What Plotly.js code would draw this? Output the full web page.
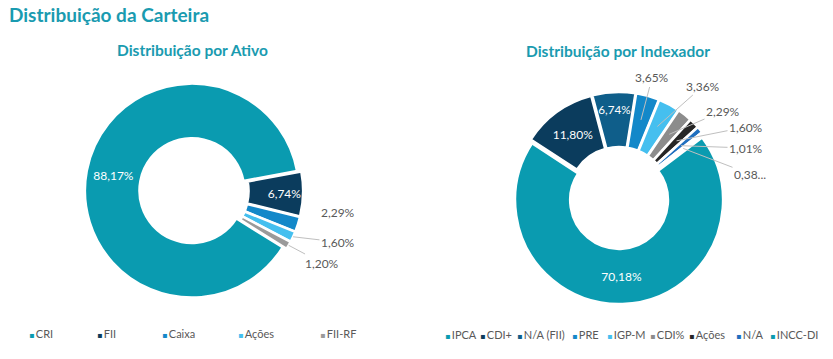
<!DOCTYPE html>
<html>
<head>
<meta charset="utf-8">
<script src="https://cdn.plot.ly/plotly-3.0.1.min.js"></script>
<style>html,body{margin:0;padding:0;background:#fff;}#chart{width:833px;height:359px;}</style>
</head>
<body>
<div id="chart"></div>
<script>
// ---- Data ----
const ativoLabels = ['CRI', 'FII', 'Caixa', 'Ações', 'FII-RF'];
const ativoValues = [88.17, 6.74, 2.29, 1.60, 1.20];
const ativoColors = ['#0A9BB0', '#0B3C5D', '#1388C9', '#45BFEF', '#9A9A9A'];

const indexLabels = ['IPCA', 'CDI+', 'N/A (FII)', 'PRE', 'IGP-M', 'CDI%', 'Ações', 'N/A', 'INCC-DI'];
const indexValues = [70.18, 11.80, 6.74, 3.65, 3.36, 2.29, 1.60, 1.01, 0.38];
const indexColors = ['#0A9BB0', '#0B3C5D', '#0F5E8A', '#1388C9', '#45BFEF', '#8C8C8C', '#262626', '#1F6FBF', '#0A9BB0'];

const mainTitle = 'Distribuição da Carteira';
const ativoTitle = 'Distribuição por Ativo';
const indexTitle = 'Distribuição por Indexador';

// ---- Layout settings (pixels) ----
const W = 833, H = 359;
const FONT = 'Lato, "Open Sans", sans-serif';
const TEAL = '#1A9BB0';
const GREY = '#595959';
const LINE = '#BFBFBF';
const pull = 0.02;

const ativoPie = {cx: 194, cy: 191, r: 107, rot: 122, hole: 0.49, tip: 1.0};
const indexPie = {cx: 619, cy: 198, r: 104, rot: 53, hole: 0.47, tip: 0.76};
// outside-label text positions (index of slice -> [x, y, draw leader line])
const ativoOutside = {2: [338, 212, false], 3: [338, 242, true], 4: [322, 263, true]};
const indexOutside = {3: [652, 78, true], 4: [703, 86, true], 5: [723, 111, true],
                      6: [746, 127, true], 7: [746, 148, true], 8: [750, 174, true]};
const ativoLegendX = [27, 95, 160, 236, 318];
const indexLegendX = [443, 478, 515, 570, 605, 648, 687, 734, 768];

// ---- Helpers ----
function fmt(v) {
  let s = v.toFixed(2).replace('.', ',') + '%';
  if (v < 0.5) s = s.slice(0, 4) + '...';
  return s;
}
function px(x) { return x / W; }
function py(y) { return 1 - y / H; }

function pieTrace(labels, values, colors, P, outside) {
  const half = P.r * (1 + pull);
  return {
    type: 'pie', sort: false, direction: 'clockwise', rotation: P.rot,
    labels: labels, values: values, hole: P.hole,
    text: values.map(fmt), textinfo: 'text', hoverinfo: 'label+percent',
    textposition: values.map((v, i) => outside[i] ? 'none' : 'inside'),
    insidetextorientation: 'horizontal',
    insidetextfont: {family: FONT, size: 12, color: '#ffffff'},
    marker: {colors: colors, line: {color: '#ffffff', width: 2.5}},
    pull: values.map(() => pull),
    showlegend: false,
    domain: {x: [px(P.cx - half), px(P.cx + half)], y: [py(P.cy + half), py(P.cy - half)]}
  };
}

function outsideAnnotations(values, P, outside) {
  const total = values.reduce((a, b) => a + b, 0);
  const anns = [];
  let cum = 0;
  values.forEach((v, i) => {
    const mid = P.rot + 360 * (cum + v / 2) / total;
    cum += v;
    const o = outside[i];
    if (!o) return;
    const a = mid * Math.PI / 180;
    const R = P.r * (P.tip + pull);
    const tx = P.cx + R * Math.sin(a), ty = P.cy - R * Math.cos(a);
    const base = {text: fmt(v), xref: 'paper', yref: 'paper',
                  font: {family: FONT, size: 12, color: GREY}};
    if (o[2]) {
      anns.push(Object.assign(base, {x: px(tx), y: py(ty), showarrow: true, arrowhead: 0,
        arrowwidth: 1, arrowcolor: LINE, standoff: 0, ax: o[0] - tx, ay: o[1] - ty}));
    } else {
      anns.push(Object.assign(base, {x: px(o[0]), y: py(o[1]), showarrow: false}));
    }
  });
  return anns;
}

function legendAnnotations(labels, colors, xs, y) {
  return labels.map((l, i) => ({
    text: '<span style="color:' + colors[i] + ';font-family:DejaVu Sans;font-size:8px">▪</span>\u2009' + l,
    x: px(xs[i]), y: py(y), xref: 'paper', yref: 'paper', xanchor: 'left', yanchor: 'middle',
    showarrow: false, font: {family: FONT, size: 11, color: GREY}
  }));
}

const data = [
  pieTrace(ativoLabels, ativoValues, ativoColors, ativoPie, ativoOutside),
  pieTrace(indexLabels, indexValues, indexColors, indexPie, indexOutside)
];

const layout = {
  width: W, height: H,
  margin: {l: 0, r: 0, t: 0, b: 0},
  paper_bgcolor: '#ffffff',
  font: {family: FONT, color: GREY},
  title: {text: '<b>' + mainTitle + '</b>', x: px(9), xanchor: 'left', xref: 'paper',
          y: py(15), yanchor: 'middle', yref: 'container',
          font: {family: FONT, size: 19, color: TEAL}},
  annotations: [
    {text: '<b>' + ativoTitle + '</b>', x: px(192), y: py(50), xref: 'paper', yref: 'paper',
     xanchor: 'center', yanchor: 'middle', showarrow: false, font: {family: FONT, size: 15.5, color: TEAL}},
    {text: '<b>' + indexTitle + '</b>', x: px(618), y: py(51), xref: 'paper', yref: 'paper',
     xanchor: 'center', yanchor: 'middle', showarrow: false, font: {family: FONT, size: 15.5, color: TEAL}}
  ].concat(
    outsideAnnotations(ativoValues, ativoPie, ativoOutside),
    outsideAnnotations(indexValues, indexPie, indexOutside),
    legendAnnotations(ativoLabels, ativoColors, ativoLegendX, 333),
    legendAnnotations(indexLabels, indexColors, indexLegendX, 334)
  )
};

Plotly.newPlot('chart', data, layout, {displayModeBar: false, staticPlot: true});
</script>
</body>
</html>
